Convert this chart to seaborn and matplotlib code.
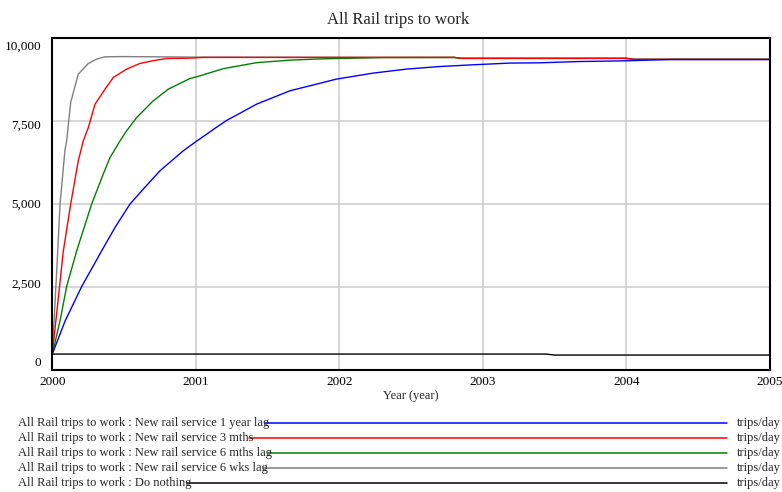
import pandas as pd
import seaborn as sns
import matplotlib.pyplot as plt
from matplotlib.lines import Line2D
from matplotlib.transforms import ScaledTranslation

# values (trips/day)
years_1yr = [2000.0, 2000.09, 2000.205, 2000.344, 2000.44, 2000.541, 2000.623, 2000.75, 2000.912,
             2001.006, 2001.086, 2001.145, 2001.214, 2001.424, 2001.655, 2001.98, 2002.236, 2002.468,
             2002.70, 2002.93, 2003.187, 2003.40, 2003.68, 2004.0, 2004.16, 2004.3, 2005.0]
trips_1yr = [465, 1470, 2500, 3575, 4300, 4982, 5382, 5985, 6587,
             6880, 7120, 7300, 7500, 7994, 8394, 8747, 8928, 9048,
             9126, 9178, 9229, 9238, 9277, 9298, 9319, 9335, 9335]

years_3mth = [2000.0, 2000.077, 2000.128, 2000.181, 2000.216, 2000.251, 2000.298, 2000.37, 2000.425,
              2000.518, 2000.61, 2000.70, 2000.797, 2000.96, 2001.05, 2002.8, 2002.85, 2004.0,
              2004.05, 2005.0]
trips_3mth = [465, 3575, 4982, 6286, 6888, 7289, 7994, 8460, 8795,
              9048, 9217, 9300, 9368, 9378, 9400, 9400, 9372, 9372,
              9342, 9342]

years_6mth = [2000.0, 2000.054, 2000.10, 2000.17, 2000.274, 2000.355, 2000.402, 2000.472, 2000.518,
              2000.588, 2000.70, 2000.808, 2000.959, 2001.006, 2001.19, 2001.42, 2001.655, 2001.89,
              2002.0, 2002.3, 2002.8, 2002.85, 2004.0, 2004.05, 2005.0]
trips_6mth = [465, 1466, 2500, 3575, 4982, 5885, 6385, 6888, 7190,
              7590, 8080, 8445, 8765, 8816, 9060, 9240, 9319, 9358,
              9368, 9395, 9400, 9372, 9372, 9342, 9342]

years_6wks = [2000.0, 2000.03, 2000.054, 2000.088, 2000.10, 2000.128, 2000.181, 2000.251, 2000.309,
              2000.367, 2000.49, 2001.0, 2002.8, 2002.85, 2004.0, 2004.05, 2005.0]
trips_6wks = [465, 2900, 4982, 6600, 6888, 8042, 8897, 9217, 9349,
              9418, 9425, 9410, 9400, 9372, 9372, 9342, 9342]

years_none = [2000.0, 2003.44, 2003.50, 2005.0]
trips_none = [465, 465, 435, 435]

series_names = [
    "All Rail trips to work : New rail service 1 year lag",
    "All Rail trips to work : New rail service 3 mths",
    "All Rail trips to work : New rail service 6 mths lag",
    "All Rail trips to work : New rail service 6 wks lag",
    "All Rail trips to work : Do nothing",
]
series_colors = ["#0000ff", "#ff0000", "#008000", "#808080", "#000000"]
unit_label = "trips/day"
x_ticks = [2000, 2001, 2002, 2003, 2004, 2005]
y_ticks = [0, 2500, 5000, 7500, 10000]

all_years = [years_1yr, years_3mth, years_6mth, years_6wks, years_none]
all_trips = [trips_1yr, trips_3mth, trips_6mth, trips_6wks, trips_none]

frames = []
for name, xs, ys in zip(series_names, all_years, all_trips):
    frames.append(pd.DataFrame({"Year": xs, "Trips": ys, "Scenario": name}))
df = pd.concat(frames, ignore_index=True)
palette = dict(zip(series_names, series_colors))

sns.set_style("white")
plt.rcParams["font.family"] = ["Liberation Serif", "DejaVu Serif"]

fig = plt.figure(figsize=(7.82, 4.92), dpi=100)
ax = fig.add_axes([52.3 / 782, 1 - 369.5 / 492, (770 - 52.3) / 782, (369.5 - 37.5) / 492])

# draw order reversed so the first scenario sits on top
sns.lineplot(data=df, x="Year", y="Trips", hue="Scenario", hue_order=series_names[::-1],
             palette=palette, linewidth=1.0, estimator=None, sort=False, legend=False, ax=ax)

ax.set_xlim(2000, 2005)
ax.set_ylim(0, 10000)
ax.set_xticks(x_ticks)
ax.set_xticklabels([str(x) for x in x_ticks])
ax.set_yticks(y_ticks)
ax.set_yticklabels([f"{y:,}" for y in y_ticks])
ax.grid(True, color="#cccccc", linewidth=1.1)
ax.tick_params(length=0, labelsize=9.5, colors="black")
ax.tick_params(axis="x", pad=5)
ax.tick_params(axis="y", pad=8)
for s in ax.spines.values():
    s.set_visible(True)
    s.set_color("black")
    s.set_linewidth(1.5)
ax.set_xlabel("Year (year)", fontsize=9, labelpad=1)
ax.set_ylabel("")

# y labels in the reference are squeezed slightly inside the gridlines
for lab, v in zip(ax.get_yticklabels(), y_ticks):
    dy = (7.5 - 15 * v / 10000) / 100
    lab.set_transform(lab.get_transform() + ScaledTranslation(0, dy, fig.dpi_scale_trans))

fig.text(398 / 782, 1 - 20 / 492, "All Rail trips to work", ha="center", va="center", fontsize=12)

# legend rows below the plot
row_y = [423, 438, 453, 468, 483]
fig.canvas.draw()
renderer = fig.canvas.get_renderer()
for name, col, yp in zip(series_names, series_colors, row_y):
    t = fig.text(17.5 / 782, 1 - yp / 492, name, ha="left", va="center", fontsize=9)
    bb = t.get_window_extent(renderer)
    x0 = (bb.x1 - 4) / 782
    fig.add_artist(Line2D([x0, 727 / 782], [1 - yp / 492, 1 - yp / 492], color=col, linewidth=1.1))
    fig.text(737 / 782, 1 - yp / 492, unit_label, ha="left", va="center", fontsize=9)

fig.savefig("out.png", dpi=100)
